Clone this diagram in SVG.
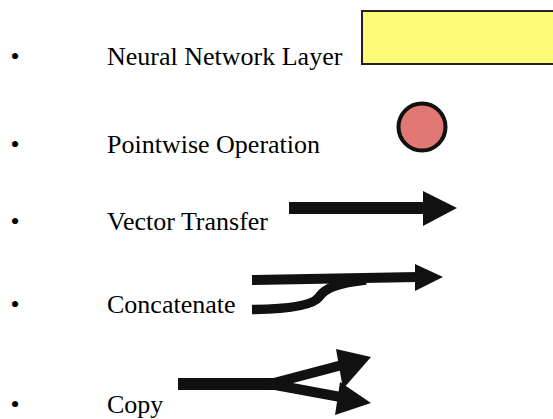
<svg xmlns="http://www.w3.org/2000/svg" width="553" height="419" viewBox="0 0 553 419">
<style>
  text { font-family: "Liberation Serif", "Times New Roman", serif; font-size: 26px; fill: #000; }
  .ink { fill: #111; }
  .line { fill: none; stroke: #111; stroke-linecap: butt; }
</style>
<rect width="553" height="419" fill="#fff"/>
<g id="item-layer">
  <text x="10.5" y="65">•</text>
  <text x="107" y="65">Neural Network Layer</text>
  <rect x="362" y="11" width="195" height="53" fill="#FDFB77" stroke="#222" stroke-width="2"/>
</g>
<g id="item-pointwise">
  <text x="10.5" y="153">•</text>
  <text x="107" y="153">Pointwise Operation</text>
  <circle cx="422" cy="127" r="23.5" fill="#E27873" stroke="#111" stroke-width="4"/>
</g>
<g id="item-vector">
  <text x="10.5" y="230">•</text>
  <text x="107" y="230">Vector Transfer</text>
</g>
<g id="item-concat">
  <text x="10.5" y="313">•</text>
  <text x="107" y="313">Concatenate</text>
</g>
<g id="item-copy">
  <text x="10.5" y="413">•</text>
  <text x="107" y="413">Copy</text>
</g>
<g id="connectors">
  <!-- vector transfer -->
  <rect class="ink" x="289" y="202" width="136" height="12"/>
  <polygon class="ink" points="423,191 457,208 423,226"/>
  <!-- concatenate -->
  <path class="line" stroke-width="10" d="M252,280 L418,277"/>
  <path class="line" stroke-width="9.5" d="M252,309.5 C296,309 314,304 319,297 C325,288 338,283 366,280"/>
  <polygon class="ink" points="415,264 443,277 415,291"/>
  <!-- copy -->
  <rect class="ink" x="178" y="378" width="100" height="12"/>
  <path class="line" stroke-width="10" d="M270,384 L346,364"/>
  <path class="line" stroke-width="10" d="M270,384 L346,398"/>
  <polygon class="ink" points="336,349 371,357 343,389"/>
  <polygon class="ink" points="340,382 371,403 335,415"/>
</g>
</svg>
